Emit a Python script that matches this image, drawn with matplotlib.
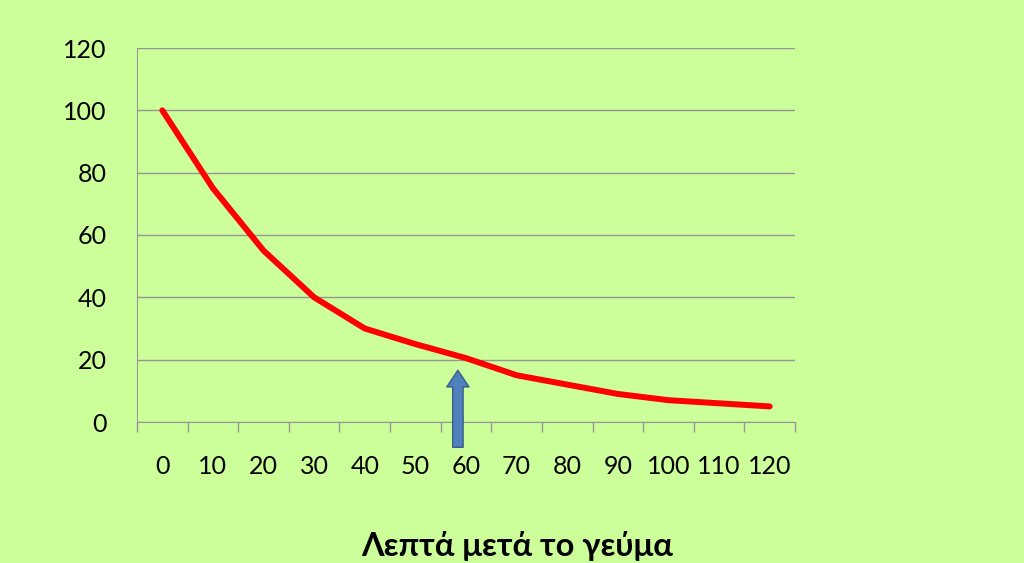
import matplotlib
matplotlib.use("Agg")
import matplotlib.pyplot as plt
from matplotlib.patches import FancyArrowPatch

categories = ["0", "10", "20", "30", "40", "50", "60", "70", "80", "90", "100", "110", "120"]
values = [100, 75, 55, 40, 30, 25, 20.5, 15, 12, 9, 7, 6, 5]
yticks = [0, 20, 40, 60, 80, 100, 120]
xlabel = "Λεπτά μετά το γεύμα"

bg = "#CCFF99"
plt.rcParams['font.family'] = ['Lato', 'DejaVu Sans']

fig = plt.figure(figsize=(10.24, 5.63), dpi=100, facecolor=bg)
ax = fig.add_axes([137/1024, 1-422/563, (795-137)/1024, (422-48)/563])
ax.set_facecolor(bg)

x = list(range(len(categories)))
ax.plot(x, values, color="#FF0000", linewidth=4.3, solid_capstyle="round", solid_joinstyle="round", zorder=3)

ax.set_xlim(-0.5, len(categories) - 0.5)
ax.set_ylim(0, 120)
ax.set_yticks(yticks)
ax.set_yticklabels([str(v) for v in yticks])
ax.yaxis.grid(True, color="#969696", linewidth=1)
ax.set_axisbelow(True)

ax.set_xticks([i - 0.5 for i in range(len(categories) + 1)], minor=False)
ax.set_xticklabels([])
ax.set_xticks(x, minor=True)
ax.set_xticklabels(categories, minor=True)
ax.tick_params(axis='x', which='major', length=7, color="#969696", width=1, direction='out')
ax.tick_params(axis='x', which='minor', length=0, pad=24, labelsize=18)
ax.tick_params(axis='y', length=0, pad=22, labelsize=18)

for s in ["top", "right"]:
    ax.spines[s].set_visible(False)
ax.spines["left"].set_color("#969696")
ax.spines["bottom"].set_color("#969696")

arrow = FancyArrowPatch((5.84, -9.0), (5.84, 17.5),
                        arrowstyle="simple,head_width=1.6,head_length=1.2,tail_width=0.75",
                        mutation_scale=10, facecolor="#4F81BD", edgecolor="#385D8A",
                        linewidth=1, clip_on=False, zorder=4)
ax.add_patch(arrow)

fig.text(517/1024, 1-546/563, xlabel, ha="center", va="center", fontsize=23.5, fontweight="bold", color="black")

fig.savefig("out.png", dpi=100, facecolor=bg)
